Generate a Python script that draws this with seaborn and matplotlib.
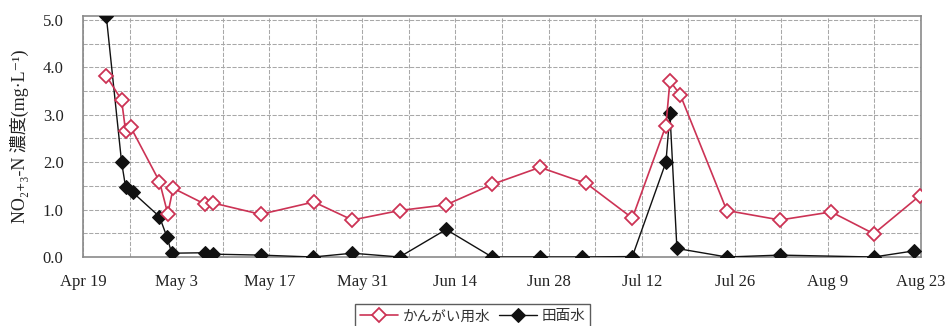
import numpy as np
import pandas as pd
import matplotlib
matplotlib.use("Agg")
import matplotlib.pyplot as plt
import seaborn as sns
from matplotlib.ticker import MultipleLocator

# ---- data (x = days since Apr 19) ----
irr_days = [3.5, 5.8, 6.4, 7.2, 11.5, 12.75, 13.55, 18.4, 19.5, 26.7, 34.7,
            40.5, 47.6, 54.6, 61.5, 68.7, 75.7, 82.6, 87.65, 88.25, 89.8,
            96.8, 104.8, 112.5, 118.9, 125.8]
irr_vals = [3.82, 3.31, 2.66, 2.73, 1.59, 0.91, 1.45, 1.11, 1.14, 0.90, 1.16,
            0.78, 0.98, 1.10, 1.53, 1.89, 1.55, 0.82, 2.77, 3.71, 3.42,
            0.98, 0.78, 0.95, 0.49, 1.29]

pad_days = [3.5, 5.8, 6.4, 7.5, 11.5, 12.6, 13.35, 18.4, 19.5, 26.7, 34.6,
            40.5, 47.6, 54.6, 61.5, 68.7, 75.1, 82.6, 87.65, 88.25, 89.3,
            96.8, 104.8, 118.9, 125.0]
pad_vals = [5.08, 2.00, 1.48, 1.36, 0.85, 0.43, 0.08, 0.09, 0.06, 0.04, 0.00,
            0.08, 0.00, 0.58, 0.00, 0.00, 0.00, 0.01, 2.00, 3.03, 0.18,
            0.00, 0.04, 0.00, 0.13]

series_names = ["かんがい用水", "田面水"]
tick_days = [0, 14, 28, 42, 56, 70, 84, 98, 112, 126]
tick_labels = ["Apr 19", "May 3", "May 17", "May 31", "Jun 14", "Jun 28",
               "Jul 12", "Jul 26", "Aug 9", "Aug 23"]

df_irr = pd.DataFrame({"day": irr_days, "val": irr_vals})
df_pad = pd.DataFrame({"day": pad_days, "val": pad_vals})

sns.set_theme(style="white")
plt.rcParams["font.family"] = ["Liberation Serif", "Noto Sans CJK JP", "DejaVu Serif"]

W, H = 948, 326
fig = plt.figure(figsize=(W / 100, H / 100), dpi=100)
left, right, top, bottom = 83, 921, 16, 257
ax = fig.add_axes([left / W, 1 - bottom / H, (right - left) / W, (bottom - top) / H])

red = "#CC3355"
blk = "#111111"

sns.lineplot(data=df_pad, x="day", y="val", ax=ax, estimator=None, sort=False,
             color=blk, lw=1.0, marker="D", markersize=7.5, markerfacecolor=blk,
             markeredgecolor=blk, legend=False, zorder=3)
sns.lineplot(data=df_irr, x="day", y="val", ax=ax, estimator=None, sort=False,
             color=red, lw=1.2, marker="D", markersize=7.5, markerfacecolor="white",
             markeredgecolor=red, markeredgewidth=1.3, legend=False, zorder=4)
line_pad, line_irr = ax.get_lines()[0], ax.get_lines()[1]
if ax.get_legend() is not None:
    ax.get_legend().remove()

ax.set_xlim(0, 126)
ax.set_ylim(0, 5.08)
ax.set_xticks(tick_days)
ax.set_xticklabels(tick_labels)
ax.xaxis.set_minor_locator(MultipleLocator(7))
ax.set_yticks(np.arange(0, 5.01, 1.0))
ax.set_yticklabels([f"{v:.1f}" for v in np.arange(0, 5.01, 1.0)])
ax.yaxis.set_minor_locator(MultipleLocator(0.5))

ax.grid(True, which="both", color="#a8a8a8", linestyle=(0, (4, 1.5)), linewidth=0.75)
ax.set_axisbelow(True)
for s in ax.spines.values():
    s.set_color("#8a8a8a")
    s.set_linewidth(1.2)
ax.tick_params(axis="both", which="major", direction="out", length=4, width=1.0,
               color="#8a8a8a", labelsize=12, labelcolor="#222222")
ax.tick_params(axis="y", which="major", pad=10)
ax.tick_params(axis="x", which="major", pad=8)
ax.tick_params(axis="both", which="minor", length=0)

ax.set_xlabel("")
ax.set_ylabel("NO₂₊₃-N 濃度(mg·L⁻¹)", fontsize=13, color="#222222", labelpad=10)

leg = fig.legend([line_irr, line_pad], series_names,
                 loc="upper left", bbox_to_anchor=(348 / W, 1 - 297 / H),
                 ncol=2, frameon=True, fancybox=False, handlelength=2.6,
                 handletextpad=0.3, columnspacing=0.6, borderpad=0.35,
                 prop={"family": ["Noto Sans CJK JP", "DejaVu Sans"], "size": 10.5})
leg.get_frame().set_edgecolor("#333333")
leg.get_frame().set_linewidth(1.0)
for t in leg.get_texts():
    t.set_color("#333333")

fig.savefig("out.png", dpi=100)
